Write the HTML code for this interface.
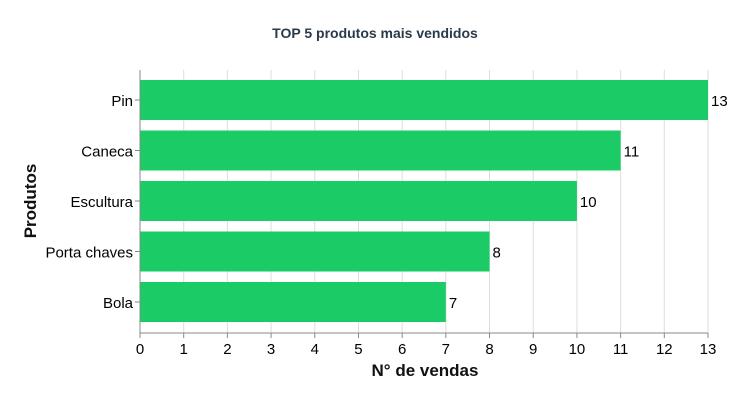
<!DOCTYPE html>
<html><head><meta charset="utf-8"><style>
body{margin:0;background:#fff;}
svg{font-family:"Liberation Sans",sans-serif;display:block}
</style></head><body>
<svg id="chart" width="750" height="410">
<text x="375" y="38" text-anchor="middle" font-size="14" font-weight="bold" fill="#2a3a4a">TOP 5 produtos mais vendidos</text>
<g id="grid"></g><g id="bars"></g><g id="axes"></g>
<text x="425" y="376" text-anchor="middle" font-size="17" font-weight="bold" fill="#111">N° de vendas</text>
<text transform="translate(36,201) rotate(-90)" text-anchor="middle" font-size="17" font-weight="bold" fill="#111">Produtos</text>
</svg>
<script>
const categories=["Pin","Caneca","Escultura","Porta chaves","Bola"];
const values=[13,11,10,8,7];
const ticks=[0,1,2,3,4,5,6,7,8,9,10,11,12,13];
const X0=140,X1=708,Y0=70,Y1=333,maxV=13;
const x=v=>X0+(v/maxV)*(X1-X0);
const band=50.5,first=80;
const y=i=>first+i*band;
const NS="http://www.w3.org/2000/svg";
function mk(t,a,p,txt){const e=document.createElementNS(NS,t);for(const k in a)e.setAttribute(k,a[k]);if(txt!==undefined)e.textContent=txt;p.appendChild(e);return e;}
const G=document.getElementById('grid'),B=document.getElementById('bars'),A=document.getElementById('axes');
ticks.forEach(t=>{
 const g=mk('line',{x1:x(t),x2:x(t),y1:Y0,y2:Y1,stroke:'#ddd','stroke-width':1},G);
 
 
 mk('line',{x1:x(t),x2:x(t),y1:Y1,y2:Y1+5,stroke:'#888'},A);
 const l=mk('text',{x:x(t),y:Y1+21,'text-anchor':'middle','font-size':15,fill:'#000'},A,t);
 
 
});
mk('line',{x1:X0,x2:X1,y1:Y1,y2:Y1,stroke:'#888'},A);
mk('line',{x1:X0,x2:X0,y1:Y0,y2:Y1,stroke:'#888'},A);
categories.forEach((c,i)=>{
 const bh=40,by=y(i);
 const r=mk('rect',{x:X0,y:by,width:x(values[i])-X0,height:bh,fill:'#1bcc66'},B);
 
 
 const v=mk('text',{x:x(values[i])+3,y:by+bh/2+6,'font-size':15,fill:'#000'},B,values[i]);
 
 
 mk('line',{x1:X0-5,x2:X0,y1:by+bh/2,y2:by+bh/2,stroke:'#888'},A);
 const l=mk('text',{x:X0-7,y:by+bh/2+6,'text-anchor':'end','font-size':15,fill:'#000'},A,c);
 
 
});
</script>
</body></html>
